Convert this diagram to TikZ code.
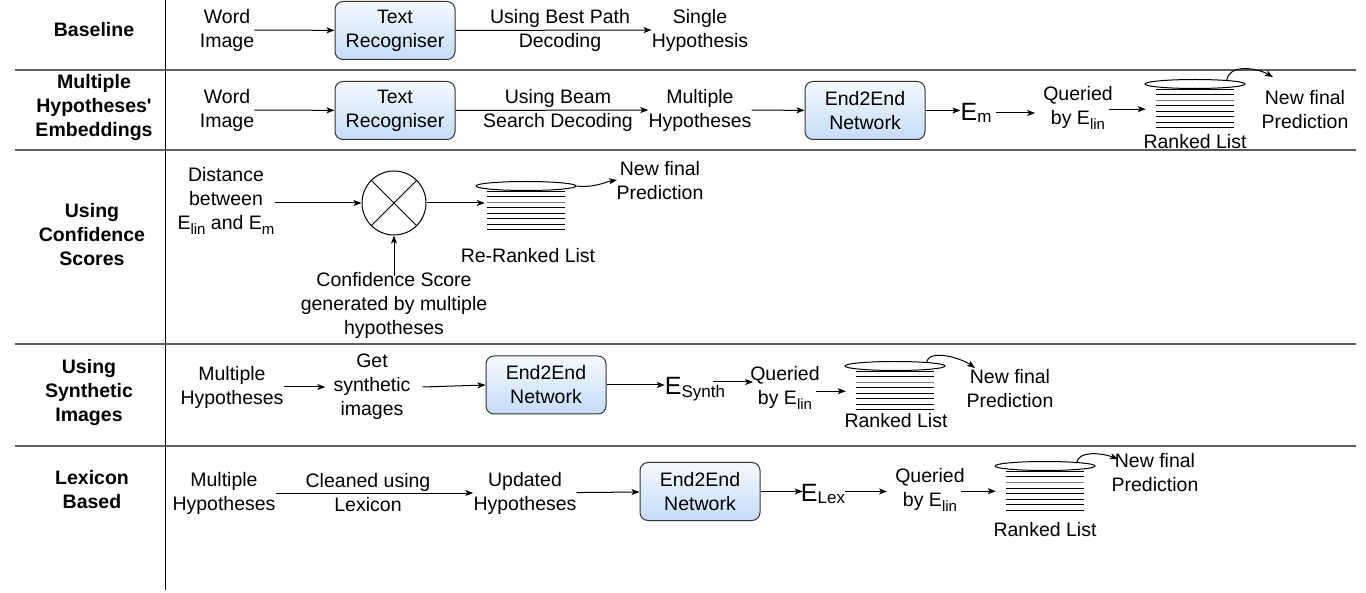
\documentclass[tikz,border=0pt]{standalone}
\usepackage{fontspec}
\setmainfont{Liberation Sans}
\usetikzlibrary{arrows.meta,shapes.geometric}
\definecolor{boxtop}{RGB}{246,250,255}
\definecolor{boxbot}{RGB}{196,220,248}
\definecolor{rulec}{RGB}{95,95,95}
\newcommand{\fs}{\fontsize{19.5}{24}\selectfont}
\newcommand{\mysub}[1]{\raisebox{-0.45ex}{\fontsize{15}{16}\selectfont #1}}
\newcommand{\bigE}[1]{{\fontsize{25}{30}\selectfont E}\raisebox{-0.5ex}{\fontsize{17}{18}\selectfont #1}}
\newcommand{\rlist}[3]{%
  \node[ellipse, draw, line width=1pt, minimum width=100pt, minimum height=9pt, inner sep=0pt] (#1e) at (#2,#3) {};
  \node[minimum width=78pt, minimum height=39pt, inner sep=0pt, anchor=north] (#1) at ([yshift=-0.5pt]#1e.south) {};
  \foreach \i/\c in {0/black,1/black,2/gray,3/black,4/black,5/black,6/black,7/black}
    {\draw[line width=1pt, \c] ([yshift={-\i*5.5pt}]#1.north west) -- ([yshift={-\i*5.5pt}]#1.north east);}
}
\begin{document}
\begin{tikzpicture}[x=1pt,y=-1pt,
  txt/.style={align=center, font=\fs, inner sep=0pt},
  ttl/.style={align=center, font=\fs\bfseries, inner sep=0pt},
  procbox/.style={draw=black!80, line width=1pt, rounded corners=8pt, top color=boxtop, bottom color=boxbot,
    minimum width=120pt, minimum height=58pt, align=center, font=\fs, inner sep=0pt},
  arr/.style={-{Stealth[length=8pt,width=6pt,inset=2pt]}, line width=1pt},
  rowrule/.style={draw=rulec, line width=1.3pt}]
\useasboundingbox (0,0) rectangle (1366,593);

% grid
\draw[line width=1pt] (165,0) -- (165,590);
\draw[rowrule] (15,70) -- (1356,70);
\draw[rowrule] (15,150) -- (1356,150);
\draw[rowrule] (15,344) -- (1356,344);
\draw[rowrule] (15,446) -- (1356,446);

% titles
\node[ttl] (t1) at (94,30) {Baseline};
\node[ttl] (t2) at (94,108) {Multiple\\Hypotheses\textquotesingle\\Embeddings};
\node[ttl] (t3) at (92,235) {Using\\Confidence\\Scores};
\node[ttl] (t4) at (89,393) {Using\\Synthetic\\Images};
\node[ttl] (t5) at (92,490) {Lexicon\\Based};

% row 1
\node[txt] (wi1) at (227,30) {Word\\Image};
\node[procbox] (tr1) at (395,30.5) {Text\\Recogniser};
\node[txt] (lb1) at (560,30) {Using Best Path\\Decoding};
\node[txt] (sh1) at (700,30) {Single\\Hypothesis};
\draw[arr] (wi1) -- (tr1);
\draw[arr] (tr1) -- (sh1);

% row 2
\node[txt] (wi2) at (227,110) {Word\\Image};
\node[procbox] (tr2) at (395,110.5) {Text\\Recogniser};
\node[txt] (lb2) at (558,110) {Using Beam\\Search Decoding};
\node[txt] (mh2) at (700,110) {Multiple\\Hypotheses};
\node[procbox] (ee2) at (865,110.5) {End2End\\Network};
\node[inner sep=0pt] (em2) at (976,113) {\bigE{m}};
\node[txt] (q2) at (1078,108) {Queried\\by E\mysub{lin}};
\rlist{rl2}{1195}{84}
\node[txt] (rk2) at (1195,142) {Ranked List};
\node[txt] (nf2) at (1305,110) {New final\\Prediction};
\coordinate (nf2c) at (1273,77);
\draw[arr] (wi2) -- (tr2);
\draw[arr] (tr2) -- (mh2);
\draw[arr] (mh2) -- (ee2);
\draw[arr] (ee2.east) -- (em2.west |- ee2.east);
\draw[arr] ([xshift=4pt]em2.east) -- ([xshift=-8pt]q2.west |- em2.east);
\draw[arr] ([xshift=-4pt]q2.east |- rl2.west) -- ([xshift=-10pt]rl2.west);
\draw[arr] ([xshift=-4pt]rl2e.north east) .. controls +(2,-16) and +(-18,-10) .. (nf2c);

% row 3
\node[txt] (ds3) at (226,201) {Distance\\between\\E\mysub{lin} and E\mysub{m}};
\node[circle, draw, line width=1pt, minimum size=64pt, inner sep=0pt] (cx3) at (394,203) {};
\draw[line width=1pt] (cx3.45) -- (cx3.225);
\draw[line width=1pt] (cx3.135) -- (cx3.315);
\node[txt] (cs3) at (394,305) {Confidence Score\\generated by multiple\\hypotheses};
\rlist{rl3}{526}{186}
\node[txt] (rk3) at (528,256) {Re-Ranked List};
\node[txt] (nf3) at (660,181) {New final\\Prediction};
\coordinate (nf3c) at (617,180);
\draw[arr] (ds3.east |- cx3.west) -- (cx3.west);
\draw[arr] ([yshift=-4pt]cs3.north) -- (cx3.south);
\draw[arr] (cx3.east) -- ([xshift=-2pt]rl3.west |- cx3.east);
\draw[arr] (rl3e.east) .. controls +(18,2) and +(-12,2) .. (nf3c);

% row 4
\node[txt] (mh4) at (232,387) {Multiple\\Hypotheses};
\node[txt] (gs4) at (372,387) {Get\\synthetic\\images};
\node[procbox] (ee4) at (546,385) {End2End\\Network};
\node[inner sep=0pt] (es4) at (695,389) {\bigE{Synth}};
\node[txt] (q4) at (785,388) {Queried\\by E\mysub{lin}};
\rlist{rl4}{895}{366}
\node[txt] (rk4) at (896,421) {Ranked List};
\node[txt] (nf4) at (1010,389) {New final\\Prediction};
\coordinate (nf4c) at (975,368);
\coordinate (es4a) at ([xshift=-12pt,yshift=7pt]es4.east);
\draw[arr] (mh4) -- ([xshift=-8pt]gs4.west |- mh4.east);
\draw[arr] ([xshift=12pt]gs4.east) -- (ee4.west);
\draw[arr] (ee4.east) -- (es4.west |- ee4.east);
\draw[arr] (es4a) -- ([xshift=3pt]es4a -| q4.west);
\draw[arr] ([xshift=-4pt]q4.east |- rl4.west) -- ([xshift=-10pt]rl4.west);
\draw[arr] ([xshift=-4pt]rl4e.north east) .. controls +(2,-14) and +(-14,-10) .. (nf4c);

% row 5
\node[txt] (mh5) at (224,493) {Multiple\\Hypotheses};
\node[txt] (lb5) at (368,493) {Cleaned using\\Lexicon};
\node[txt] (uh5) at (525,493) {Updated\\Hypotheses};
\node[procbox] (ee5) at (700,491.5) {End2End\\Network};
\node[inner sep=0pt] (el5) at (823,494) {\bigE{Lex}};
\node[txt] (q5) at (930,490) {Queried\\by E\mysub{lin}};
\rlist{rl5}{1045}{466}
\node[txt] (rk5) at (1045,530) {Ranked List};
\node[txt] (nf5) at (1155,473) {New final\\Prediction};
\coordinate (nf5c) at (1118,459);
\draw[arr] (mh5) -- (uh5);
\draw[arr] (uh5) -- (ee5);
\draw[arr] (ee5.east) -- ([xshift=2pt]el5.west |- ee5.east);
\draw[arr] (el5.east |- ee5.east) -- ([xshift=-8pt]q5.west |- ee5.east);
\draw[arr] ([xshift=-4pt]q5.east |- rl5.west) -- ([xshift=-10pt]rl5.west);
\draw[arr] ([xshift=-4pt]rl5e.north east) .. controls +(2,-12) and +(-16,-6) .. (nf5c);
\end{tikzpicture}
\end{document}
